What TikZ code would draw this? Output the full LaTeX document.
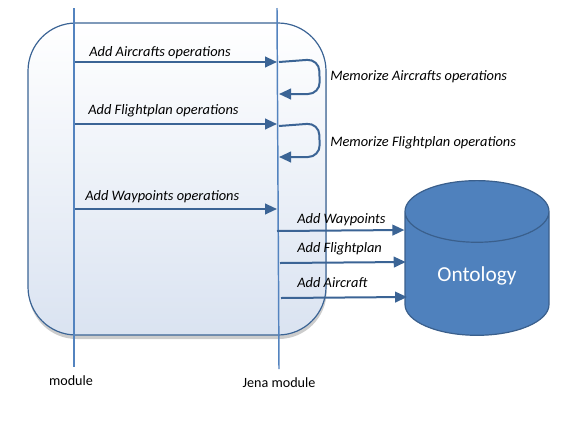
\documentclass[tikz,border=0pt]{standalone}
\usepackage{fontspec}
\setmainfont{Carlito}
\usetikzlibrary{arrows.meta,shapes.geometric,shadows,positioning}
\definecolor{msgblue}{HTML}{3B6495}
\definecolor{lifeblue}{HTML}{5383BF}
\definecolor{dbfill}{HTML}{4F81BD}
\definecolor{dbdraw}{HTML}{3A5F8C}
\definecolor{boxlow}{HTML}{DAE3F1}
\tikzset{
frame/.style={
    draw=msgblue,
    line width=0.9pt,
    rounded corners=36pt,
    top color=white,
    bottom color=boxlow,
    drop shadow={opacity=0.4,shadow xshift=0.5pt,shadow yshift=-3pt}
},
lifeline/.style={
    lifeblue,line width=1.1pt
},
msg/.style={
    msgblue,line width=1.5pt,-{Triangle[length=9pt,width=8pt]}
},
msglabel/.style={
    anchor=base west,
    inner sep=0pt,
    font=\fontsize{10.8}{12}\selectfont\itshape
},
lifelabel/.style={
    anchor=base,
    inner sep=0pt,
    font=\fontsize{10.6}{12}\selectfont
},
store/.style={
    cylinder,
    shape border rotate=90,
    aspect=0.7,
    draw=dbdraw,
    line width=0.9pt,
    fill=dbfill,
    text=white,
    minimum width=108pt,
    minimum height=116pt,
    font=\fontsize{16}{19}\selectfont
},
}

\begin{document}
\begin{tikzpicture}[x=0.75pt,y=-0.75pt]
\useasboundingbox (0,0) rectangle (571,422);

% background panel
\path[frame] (28,23) rectangle (326,335);

% lifelines
\node [lifelabel] (mod) at (71,385) {module};
\node [lifelabel] (jena) at (279,387) {Jena module};
\coordinate (modtop) at (74,8);
\coordinate (jenatop) at (277,8);
\draw [lifeline] (modtop) -- (74,367);
\draw [lifeline] (jenatop) -- (279,369);

% store
\node [store] (onto) at (477,279) {\raisebox{7pt}{Ontology}};

% messages module -> jena
\coordinate (m1) at (75,62);
\coordinate (j1) at (277,62);
\coordinate (m2) at (75,124);
\coordinate (j2) at (277,124);
\coordinate (m3) at (75,209);
\coordinate (j3) at (277,209);
\draw [msg] (m1) -- (j1);
\draw [msg] (m2) -- (j2);
\draw [msg] (m3) -- (j3);
\node [msglabel] (l1) at (89,56) {Add Aircrafts operations};
\node [msglabel] (l2) at (88,114) {Add Flightplan operations};
\node [msglabel] (l3) at (85,200) {Add Waypoints operations};

% self calls
\coordinate (s1) at (279,62);
\coordinate (e1) at (279,94);
\coordinate (s2) at (279,126);
\coordinate (e2) at (279,157);
\draw [msg,rounded corners=9pt] (s1) -- (319,59) -- (320,94) -- (e1);
\draw [msg,rounded corners=9pt] (s2) -- (319,123) -- (320,157) -- (e2);
\node [msglabel] (r1) at (330,80) {Memorize Aircrafts operations};
\node [msglabel] (r2) at (330,146) {Memorize Flightplan operations};

% jena -> store
\coordinate (o1) at (277,231);
\coordinate (o2) at (280,263);
\coordinate (o3) at (281,298);
\draw [msg] (o1) -- (onto.west |- 0,230);
\draw [msg] (o2) -- ([xshift=1pt]onto.west |- 0,262);
\draw [msg] (o3) -- ([xshift=2pt]onto.west |- 0,297);
\node [msglabel] (w1) at (297,223) {Add Waypoints};
\node [msglabel] (w2) at (297,252) {Add Flightplan};
\node [msglabel] (w3) at (297,287) {Add Aircraft};

\end{tikzpicture}
\end{document}
